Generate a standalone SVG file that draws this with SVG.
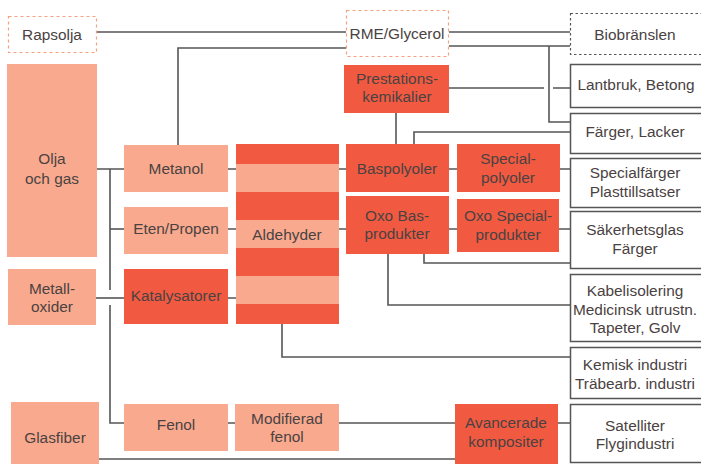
<svg xmlns="http://www.w3.org/2000/svg" width="701" height="464" viewBox="0 0 701 464">
<style>
.l{fill:#F9AA8E}
.d{fill:#F15A41}
.w{fill:#fff;stroke:#555;stroke-width:1.5}
.ds{fill:#fff;stroke:#F5A080;stroke-width:1.2;stroke-dasharray:3 3}
.dg{fill:#fff;stroke:#555;stroke-width:1.2;stroke-dasharray:2.5 2.5}
text{font-family:"Liberation Sans",Arial,sans-serif;font-size:15.4px;fill:#4a4242;text-anchor:middle}
.c path{fill:none;stroke:#555;stroke-width:1.6}
</style>
<rect width="701" height="464" fill="#fff"/>
<g class="c" id="connectors">
<path d="M97 32H346"/>
<path d="M178 145V48H346"/>
<path d="M449 32H570"/>
<path d="M449 46H570M549 46V122H570"/>
<path d="M449 88H544M553 88H570"/>
<path d="M396 113V144"/>
<path d="M570 132H414V144"/>
<path d="M97 169H124M110 169V290M110 305V423H124"/>
<path d="M110 229H124"/>
<path d="M96 298H124"/>
<path d="M228 169H236M228 229H236M228 298H236"/>
<path d="M339 169H346M339 229H346"/>
<path d="M449 169H457M560 169H570"/>
<path d="M449 229H457M559 229H570"/>
<path d="M424 254V263H570"/>
<path d="M388 254V305H570"/>
<path d="M282 324V357H570"/>
<path d="M228 423H235M339 423H455M558 423H570"/>
<path d="M99 459H455"/>
</g>
<g id="rapsolja"><rect class="ds" x="8.5" y="16.5" width="88" height="36"/><text x="52" y="40">Rapsolja</text></g>
<g id="rme"><rect class="ds" x="346.5" y="10.5" width="102" height="46"/><text x="397" y="39">RME/Glycerol</text></g>
<g id="biobranslen"><rect class="dg" x="570.5" y="13.5" width="140" height="41"/><text x="635" y="40">Biobränslen</text></g>
<g id="olja"><rect class="l" x="7" y="64" width="90" height="193"/><text x="52" y="164">Olja</text><text x="52" y="184">och gas</text></g>
<g id="metalloxider"><rect class="l" x="8" y="269" width="88" height="56"/><text x="52" y="294">Metall-</text><text x="52" y="312">oxider</text></g>
<g id="glasfiber"><rect class="l" x="11" y="402" width="88" height="62"/><text x="55" y="443">Glasfiber</text></g>
<g id="metanol"><rect class="l" x="124" y="145" width="104" height="47"/><text x="176" y="174">Metanol</text></g>
<g id="etenpropen"><rect class="l" x="124" y="207" width="104" height="47"/><text x="176" y="234">Eten/Propen</text></g>
<g id="katalysatorer"><rect class="d" x="124" y="269" width="104" height="55"/><text x="176" y="301">Katalysatorer</text></g>
<g id="aldehyder">
<rect class="d" x="236" y="144" width="103" height="180"/>
<rect class="l" x="236" y="164" width="103" height="28"/>
<rect class="l" x="236" y="220" width="103" height="28"/>
<rect class="l" x="236" y="276" width="103" height="28"/>
<text x="287" y="240">Aldehyder</text></g>
<g id="fenol"><rect class="l" x="124" y="404" width="104" height="47"/><text x="176" y="430">Fenol</text></g>
<g id="modifieradfenol"><rect class="l" x="235" y="404" width="104" height="47"/><text x="287" y="424">Modifierad</text><text x="287" y="442">fenol</text></g>
<g id="prestationskemikalier"><rect class="d" x="344" y="65" width="105" height="48"/><text x="397" y="84">Prestations-</text><text x="397" y="102">kemikalier</text></g>
<g id="baspolyoler"><rect class="d" x="346" y="144" width="103" height="48"/><text x="397" y="174">Baspolyoler</text></g>
<g id="specialpolyoler"><rect class="d" x="457" y="144" width="103" height="48"/><text x="508" y="164">Special-</text><text x="508" y="183">polyoler</text></g>
<g id="oxobas"><rect class="d" x="346" y="196" width="103" height="58"/><text x="397" y="221">Oxo Bas-</text><text x="397" y="239">produkter</text></g>
<g id="oxospecial"><rect class="d" x="457" y="199" width="102" height="53"/><text x="508" y="221">Oxo Special-</text><text x="508" y="240">produkter</text></g>
<g id="avancerade"><rect class="d" x="455" y="404" width="103" height="60"/><text x="506" y="428">Avancerade</text><text x="506" y="447">kompositer</text></g>
<g id="lantbruk"><rect class="w" x="570.5" y="64.5" width="140" height="43"/><text x="636" y="90">Lantbruk, Betong</text></g>
<g id="farger"><rect class="w" x="570.5" y="113.5" width="140" height="40"/><text x="635" y="137">Färger, Lacker</text></g>
<g id="specialfarger"><rect class="w" x="570.5" y="158.5" width="140" height="49"/><text x="635" y="178">Specialfärger</text><text x="635" y="197">Plasttillsatser</text></g>
<g id="sakerhetsglas"><rect class="w" x="570.5" y="211.5" width="140" height="57"/><text x="635" y="235">Säkerhetsglas</text><text x="635" y="254">Färger</text></g>
<g id="kabelisolering"><rect class="w" x="570.5" y="274.5" width="140" height="67"/><text x="635" y="296">Kabelisolering</text><text x="635" y="315">Medicinsk utrustn.</text><text x="635" y="333">Tapeter, Golv</text></g>
<g id="kemisk"><rect class="w" x="570.5" y="347.5" width="140" height="51"/><text x="635" y="370">Kemisk industri</text><text x="635" y="389">Träbearb. industri</text></g>
<g id="satelliter"><rect class="w" x="570.5" y="404.5" width="140" height="58"/><text x="635" y="431">Satelliter</text><text x="635" y="449">Flygindustri</text></g>
</svg>
